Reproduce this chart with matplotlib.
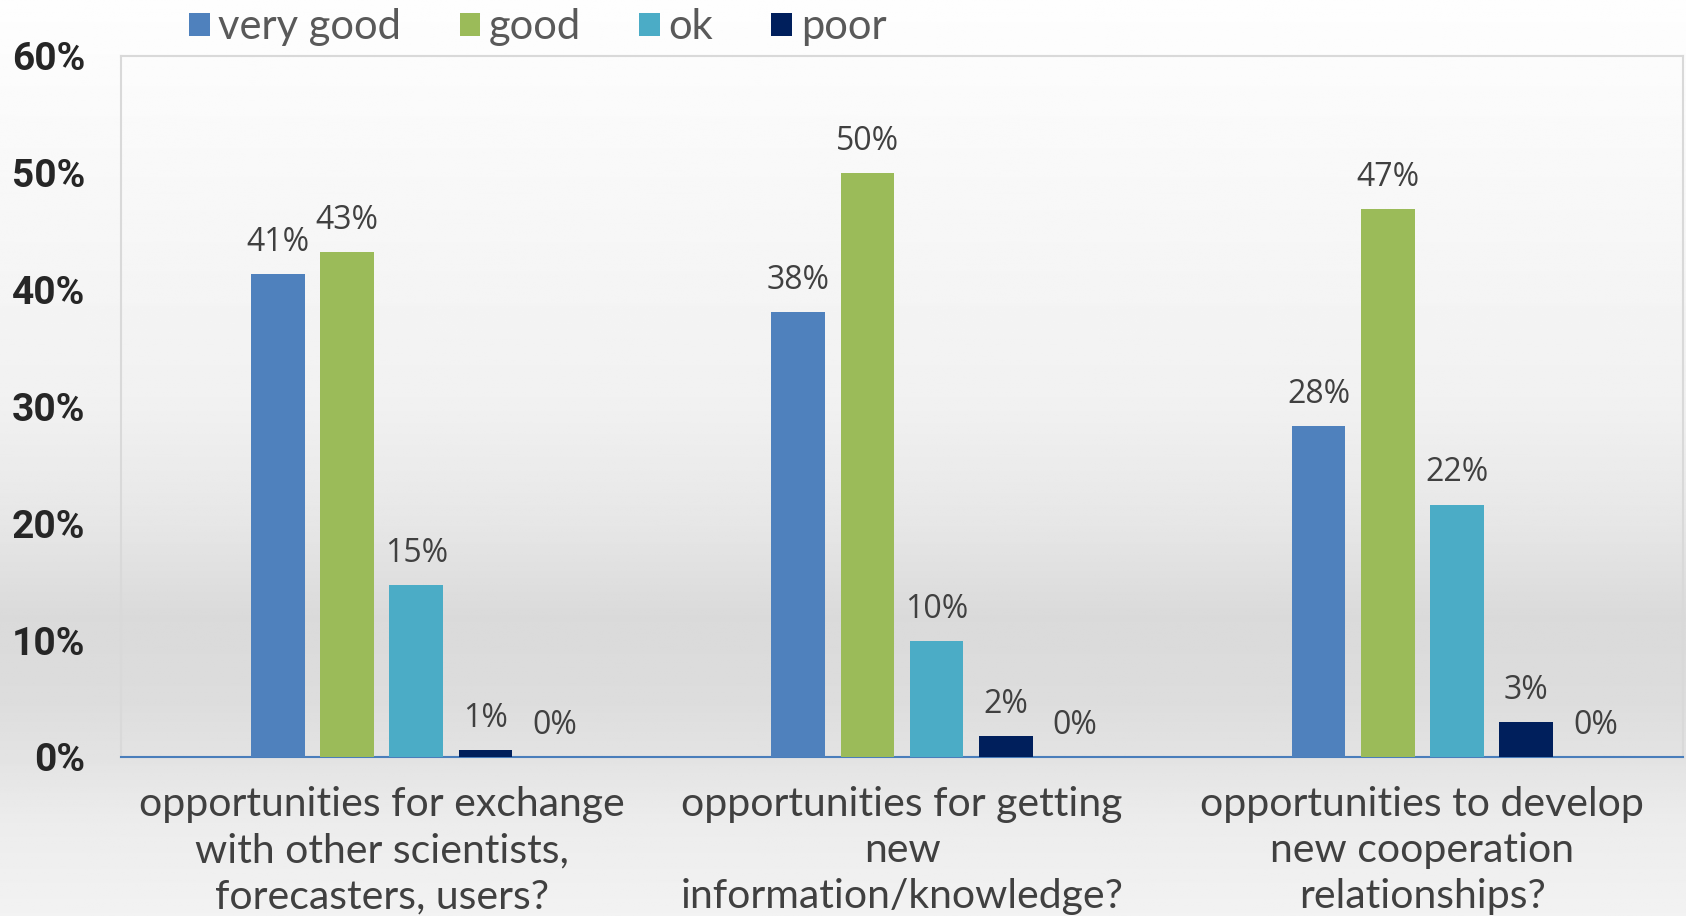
import numpy as np
import matplotlib.pyplot as plt
from matplotlib.ticker import PercentFormatter

categories = [
    'opportunities for exchange\nwith other scientists,\nforecasters, users?',
    'opportunities for getting\nnew\ninformation/knowledge?',
    'opportunities to develop\nnew cooperation\nrelationships?',
]
series_names = ['very good', 'good', 'ok', 'poor', 'very poor']
very_good = [41.3, 38.1, 28.3]
good = [43.2, 50.0, 46.9]
ok = [14.7, 9.9, 21.6]
poor = [0.6, 1.8, 3.0]
very_poor = [0.0, 0.0, 0.0]
series_values = [very_good, good, ok, poor, very_poor]
colors = ['#4f81bd', '#9bbb59', '#4bacc6', '#001f5c', '#7f7f7f']

fig = plt.figure(figsize=(16.86, 9.16), dpi=100)

# gradient background for the whole slide
bg = fig.add_axes([0, 0, 1, 1], zorder=-10)
yy = np.linspace(0, 1, 400)
shade = np.interp(yy, [0, 0.105, 0.174, 0.236, 0.326, 0.43, 0.563, 1.0],
                  [0.95, 0.925, 0.89, 0.865, 0.855, 0.905, 0.945, 0.995])
bg.imshow(np.tile(shade[:, None], (1, 10)), cmap='gray', vmin=0, vmax=1,
          aspect='auto', extent=[0, 1, 0, 1], origin='lower')
bg.axis('off')

ax = fig.add_axes([0.072, 0.1736, 0.926, 0.7653])
ax.patch.set_alpha(0)

x = np.arange(len(categories))
slot = 0.133
width = 0.103
bars = []
for i, (name, vals, c) in enumerate(zip(series_names, series_values, colors)):
    pos = x + (i - 1.5) * slot
    b = ax.bar(pos, vals, width, color=c, label=name, zorder=3)
    bars.append(b)
    for px, v in zip(pos, vals):
        ax.text(px, v + 1.3, f'{v:.0f}%', ha='center', va='bottom',
                fontsize=23, color='#404040', family='Open Sans', zorder=4)

ax.set_xlim(-0.5, 2.5)
ax.set_ylim(0, 60)
ax.set_yticks(np.arange(0, 61, 10))
ax.yaxis.set_major_formatter(PercentFormatter(decimals=0))
ax.set_xticks(x)
ax.set_xticklabels(categories, fontsize=29.5, color='#404040', family='Lato',
                   linespacing=1.3)
ax.tick_params(axis='x', length=0, pad=21)
ax.tick_params(axis='y', length=0, pad=26)
for lbl in ax.get_yticklabels():
    lbl.set_fontfamily('Roboto')
    lbl.set_fontweight('bold')
    lbl.set_fontsize(28)
    lbl.set_color('#262626')

for s in ['top', 'left', 'right']:
    ax.spines[s].set_color('#d9d9d9')
    ax.spines[s].set_linewidth(1.5)
ax.spines['bottom'].set_color('#4a7ebb')
ax.spines['bottom'].set_linewidth(1.5)

fig.legend(bars[:4], series_names[:4], loc='upper left', bbox_to_anchor=(0.09, 1.032),
           ncol=4, frameon=False, handlelength=0.5, handleheight=0.5, handletextpad=0.2,
           columnspacing=1.4, prop={'family': 'Lato', 'size': 30}, labelcolor='#595959')

fig.savefig('out.png', dpi=100)
